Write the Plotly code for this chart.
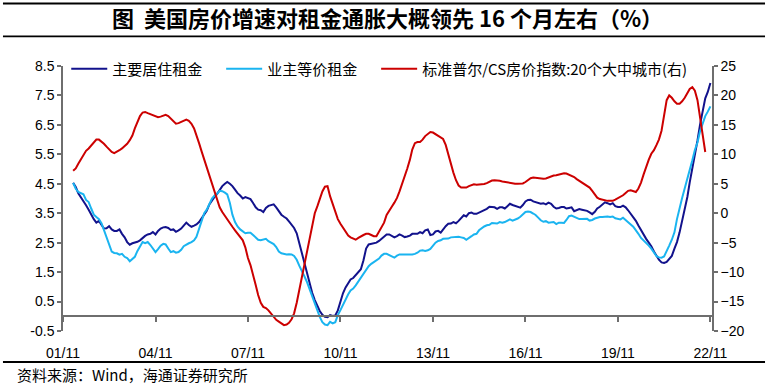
import pandas as pd
import plotly.graph_objects as go

START_MONTH = "2002-03-01"

# 主要居住租金 (YoY %, monthly from 2002-03 to 2022-11)
rent_primary = [
    4.53, 4.39, 4.18, 4.05, 3.93, 3.77, 3.62, 3.45, 3.30, 3.18,                # 2002 Mar-Dec
    3.24, 3.10, 2.98, 2.99, 3.06, 2.95, 2.90, 2.90, 2.95, 2.80, 2.68, 2.52,    # 2003
    2.43, 2.48, 2.50, 2.53, 2.58, 2.66, 2.73, 2.78, 2.80, 2.86, 2.78, 2.90,    # 2004
    2.98, 3.02, 3.03, 3.00, 2.93, 2.95, 2.87, 2.92, 2.98, 3.08, 3.18, 3.10,    # 2005
    3.04, 3.08, 3.12, 3.20, 3.33, 3.48, 3.58, 3.80, 3.95, 4.05, 4.16, 4.30,    # 2006
    4.42, 4.50, 4.56, 4.50, 4.42, 4.30, 4.18, 4.10, 4.00, 4.05, 4.02, 3.98,    # 2007
    3.85, 3.70, 3.62, 3.60, 3.54, 3.68, 3.75, 3.78, 3.80, 3.70, 3.55, 3.45,    # 2008
    3.38, 3.32, 3.22, 3.10, 3.00, 2.82, 2.50, 2.10, 1.80, 1.45, 1.10, 0.80,    # 2009
    0.55, 0.35, 0.18, 0.05, -0.02, -0.03, 0.04, 0.01, 0.03, 0.20, 0.50, 0.78,  # 2010
    0.98, 1.15, 1.25, 1.30, 1.40, 1.50, 1.60, 1.90, 2.30, 2.44, 2.46, 2.46,    # 2011
    2.50, 2.56, 2.64, 2.70, 2.78, 2.78, 2.72, 2.68, 2.72, 2.78, 2.74, 2.69,    # 2012
    2.71, 2.74, 2.80, 2.79, 2.80, 2.86, 2.82, 2.92, 2.95, 2.76, 2.78, 2.88,    # 2013
    2.90, 2.84, 2.96, 3.06, 3.14, 3.15, 3.20, 3.16, 3.24, 3.35, 3.43, 3.39,    # 2014
    3.50, 3.52, 3.48, 3.48, 3.52, 3.58, 3.62, 3.65, 3.72, 3.72, 3.70, 3.65,    # 2015
    3.70, 3.70, 3.66, 3.74, 3.82, 3.78, 3.75, 3.72, 3.69, 3.78, 3.90, 3.95,    # 2016
    3.96, 3.90, 3.88, 3.86, 3.82, 3.84, 3.80, 3.86, 3.82, 3.72, 3.66, 3.68,    # 2017
    3.71, 3.71, 3.66, 3.68, 3.70, 3.57, 3.60, 3.64, 3.62, 3.60, 3.58, 3.53,    # 2018
    3.47, 3.55, 3.66, 3.72, 3.80, 3.87, 3.84, 3.80, 3.84, 3.74, 3.71, 3.71,    # 2019
    3.76, 3.70, 3.60, 3.48, 3.40, 3.24, 3.08, 2.92, 2.78, 2.63, 2.50, 2.38,    # 2020
    2.20, 2.06, 1.92, 1.83, 1.81, 1.85, 1.94, 2.05, 2.30, 2.52, 2.85, 3.25,    # 2021
    3.62, 4.05, 4.55, 5.00, 5.45, 5.97, 6.50, 7.00, 7.40, 7.62, 7.92,          # 2022 Jan-Nov
]

# 业主等价租金 (YoY %, monthly from 2002-03 to 2022-11)
rent_oer = [
    4.53, 4.33, 4.22, 4.18, 4.14, 3.95, 3.88, 3.66, 3.45, 3.37,
    3.30, 3.15, 2.93, 2.63, 2.42, 2.20, 2.15, 2.14, 2.09, 2.12, 2.02, 1.98,
    1.87, 1.95, 2.02, 2.22, 2.36, 2.52, 2.48, 2.52, 2.42, 2.30, 2.18, 2.28,
    2.40, 2.46, 2.44, 2.30, 2.18, 2.21, 2.16, 2.18, 2.26, 2.38, 2.44, 2.48,
    2.52, 2.58, 2.70, 2.95, 3.25, 3.50, 3.62, 3.80, 4.00, 4.10, 4.16, 4.26,
    4.25, 4.20, 4.14, 3.85, 3.45, 3.20, 3.05, 2.95, 2.87, 2.82, 2.84, 2.84,
    2.76, 2.66, 2.60, 2.58, 2.61, 2.63, 2.55, 2.50, 2.45, 2.35, 2.20, 2.14,
    2.12, 2.10, 2.11, 2.10, 2.05, 1.92, 1.72, 1.55, 1.35, 1.16, 0.93, 0.72,
    0.45, 0.20, -0.02, -0.20, -0.28, -0.30, -0.19, -0.24, -0.20, 0.04, 0.21, 0.40,
    0.58, 0.75, 0.88, 0.94, 1.05, 1.18, 1.30, 1.45, 1.60, 1.70, 1.78, 1.84,
    1.90, 1.96, 2.06, 2.12, 2.12, 2.08, 2.02, 1.99, 2.06, 2.10, 2.10, 2.10,
    2.09, 2.11, 2.10, 2.12, 2.16, 2.23, 2.24, 2.22, 2.24, 2.29, 2.40, 2.50,
    2.56, 2.58, 2.63, 2.63, 2.64, 2.68, 2.69, 2.69, 2.70, 2.68, 2.66, 2.60,
    2.65, 2.72, 2.78, 2.80, 2.92, 3.00, 3.05, 3.09, 3.11, 3.17, 3.16, 3.15,
    3.20, 3.18, 3.20, 3.26, 3.29, 3.25, 3.28, 3.32, 3.38, 3.46, 3.54, 3.56,
    3.54, 3.49, 3.44, 3.35, 3.26, 3.21, 3.23, 3.18, 3.20, 3.20, 3.13, 3.18,
    3.18, 3.17, 3.27, 3.40, 3.42, 3.38, 3.36, 3.30, 3.30, 3.30, 3.31, 3.25,
    3.27, 3.32, 3.35, 3.37, 3.37, 3.38, 3.39, 3.37, 3.39, 3.33, 3.30, 3.29,
    3.35, 3.28, 3.20, 3.12, 3.04, 2.93, 2.80, 2.66, 2.58, 2.50, 2.40, 2.30,
    2.15, 2.04, 2.00, 1.99, 2.03, 2.25, 2.40, 2.60, 2.85, 3.30, 3.70, 4.02,
    4.35, 4.65, 4.95, 5.30, 5.65, 5.90, 6.28, 6.55, 6.80, 6.95, 7.13,
]

# 标准普尔/CS房价指数:20个大中城市 (YoY %, monthly from 2002-03 to 2022-09)
cs20 = [
    7.2, 7.6, 8.4, 9.2, 10.0, 10.6, 11.0, 11.5, 12.1, 12.5,
    12.5, 12.2, 11.8, 11.3, 10.8, 10.4, 10.2, 10.4, 10.7, 11.0, 11.4, 11.8,
    12.4, 13.2, 14.4, 15.5, 16.5, 17.1, 17.2, 17.0, 16.8, 16.6, 16.4, 16.3,
    16.4, 16.6, 16.7, 16.5, 16.1, 15.6, 15.2, 15.3, 15.5, 15.8, 15.9, 15.7,
    15.2, 14.4, 13.3, 11.9, 10.5, 9.1, 8.0, 6.7, 5.2, 3.6, 2.2, 1.0,
    0.2, -0.5, -1.0, -1.6, -2.3, -2.9, -3.5, -3.95, -4.6, -5.8, -7.6, -8.8,
    -10.3, -12.2, -13.9, -15.2, -15.9, -16.1, -16.5, -17.1, -17.6, -18.1, -18.4, -18.7,
    -19.0, -18.9, -18.6, -18.0, -17.0, -15.2, -13.1, -10.8, -8.6, -6.5, -4.3, -2.2,
    0.0, 1.2, 2.4, 3.7, 4.5, 4.6, 2.9, 1.6, 0.2, -1.0, -1.8, -2.5,
    -3.2, -3.8, -4.1, -4.3, -4.5, -4.2, -3.9, -3.7, -3.5, -3.5, -3.7, -3.9,
    -3.9, -3.1, -2.5, -1.6, -0.3, 0.5, 1.1, 1.8, 2.6, 3.7, 4.9, 6.3,
    7.6, 9.1, 10.8, 11.9, 12.1, 12.1, 12.5, 13.1, 13.5, 13.8, 13.7, 13.4,
    13.1, 12.9, 12.6, 11.6, 10.0, 8.6, 6.9, 5.6, 4.7, 4.35, 4.3, 4.35,
    4.6, 4.8, 4.9, 4.85, 4.85, 4.85, 4.95, 5.1, 5.35, 5.55, 5.6, 5.6,
    5.5, 5.4, 5.3, 5.2, 5.1, 5.0, 5.0, 5.0, 5.0, 5.05, 5.3, 5.7,
    5.95, 6.05, 6.0, 5.9, 5.9, 5.85, 5.9, 6.05, 6.3, 6.4, 6.45, 6.55,
    6.7, 6.8, 6.75, 6.55, 6.4, 6.15, 5.8, 5.5, 5.2, 4.95, 4.7, 4.35,
    3.8, 3.1, 2.65, 2.4, 2.3, 2.15, 2.1, 2.1, 2.1, 2.3, 2.55, 2.75,
    3.05, 3.45, 3.8, 3.9, 3.75, 3.6, 4.2, 5.2, 6.6, 8.0, 9.1, 10.1,
    10.7, 11.6, 12.5, 14.0, 16.3, 19.2, 20.0, 19.6, 19.0, 18.6, 18.6, 19.0,
    19.6, 20.3, 21.1, 21.4, 20.8, 19.2, 16.2, 13.0, 10.4,
]

tick_dates = ["2001-11-01", "2004-11-01", "2007-11-01", "2010-11-01",
              "2013-11-01", "2016-11-01", "2019-11-01", "2022-11-01"]
tick_labels = ["01/11", "04/11", "07/11", "10/11", "13/11", "16/11", "19/11", "22/11"]

names = ["主要居住租金", "业主等价租金", "标准普尔/CS房价指数:20个大中城市(右)"]
colors = ["#12128C", "#1AB4F0", "#CC0000"]

months_rent = pd.date_range(START_MONTH, periods=len(rent_primary), freq="MS")
months_cs = pd.date_range(START_MONTH, periods=len(cs20), freq="MS")

LAT = "Liberation Sans, Arial, sans-serif"
CJK = "Noto Sans CJK SC, sans-serif"
AX = "#6E6E6E"

fig = go.Figure()
fig.add_trace(go.Scatter(x=months_rent, y=rent_primary, name=names[0], mode="lines",
                         line=dict(color=colors[0], width=2), legend="legend"))
fig.add_trace(go.Scatter(x=months_rent, y=rent_oer, name=names[1], mode="lines",
                         line=dict(color=colors[1], width=2), legend="legend2"))
fig.add_trace(go.Scatter(x=months_cs, y=cs20, name=names[2], mode="lines",
                         line=dict(color=colors[2], width=2), yaxis="y2", legend="legend3"))
# helper invisible trace to carry the zero-line axis
fig.add_trace(go.Scatter(x=months_rent, y=rent_primary, mode="lines", xaxis="x2",
                         line=dict(width=0), opacity=0, showlegend=False, hoverinfo="skip"))

x_range = ["2001-11-01", "2022-11-20"]


def leg(xpos):
    return dict(orientation="h", x=xpos, y=0.989, xanchor="left", yanchor="middle",
                font=dict(family=CJK, size=15, color="#000"),
                bgcolor="rgba(0,0,0,0)", itemwidth=36)


# rules: above title, below title, above source note (paper coordinates), drawn as thin filled bars
rules_y = [1.236, 1.112, -0.117]
half = 0.0035
rule_shapes = [dict(type="rect", xref="paper", yref="paper", x0=-0.0925, x1=1.0817,
                    y0=yy - half, y1=yy + half, layer="above",
                    fillcolor="#000000", line=dict(width=0))
               for yy in rules_y]

fig.update_layout(
    width=772, height=385,
    margin=dict(l=63, r=60, t=66, b=54),
    paper_bgcolor="white", plot_bgcolor="white",
    showlegend=True,
    legend=leg(0.005), legend2=leg(0.2437), legend3=leg(0.4825),
    shapes=rule_shapes,
    xaxis=dict(type="date", range=x_range, tickvals=tick_dates, ticktext=tick_labels,
               showline=False, showgrid=False, zeroline=False,
               ticks="outside", ticklen=9, tickcolor="rgba(0,0,0,0)",
               tickfont=dict(family=LAT, size=14, color="#000")),
    xaxis2=dict(type="date", matches="x", overlaying="x", anchor="free", position=0.5 / 9,
                tickvals=tick_dates, showticklabels=False, showline=True, linecolor=AX,
                linewidth=1.5, ticks="outside", ticklen=5, tickcolor=AX, tickwidth=1.5,
                showgrid=False, zeroline=False),
    yaxis=dict(range=[-0.5, 8.5], tickvals=[-0.5, 0.5, 1.5, 2.5, 3.5, 4.5, 5.5, 6.5, 7.5, 8.5],
               ticktext=["-0.5", "0.5", "1.5", "2.5", "3.5", "4.5", "5.5", "6.5", "7.5", "8.5"],
               showline=True, linecolor=AX, linewidth=1.5, ticks="outside", ticklen=4,
               tickcolor=AX, tickwidth=1.5, showgrid=False, zeroline=False,
               tickfont=dict(family=LAT, size=14, color="#000")),
    yaxis2=dict(range=[-20, 25], dtick=5, tick0=-20, overlaying="y", side="right",
                showline=True, linecolor=AX, linewidth=1.5, ticks="outside", ticklen=4,
                tickcolor=AX, tickwidth=1.5, showgrid=False, zeroline=False,
                tickfont=dict(family=LAT, size=14, color="#000")),
)

# title and source note
fig.add_annotation(text="<b>图  美国房价增速对租金通胀大概领先 16 个月左右（%）</b>",
                   xref="paper", yref="paper", x=0.5, y=1.185, xanchor="center", yanchor="middle",
                   showarrow=False, font=dict(family=CJK, size=22, color="#000"))
fig.add_annotation(text="资料来源：Wind，海通证券研究所",
                   xref="paper", yref="paper", x=-0.074, y=-0.166, xanchor="left", yanchor="middle",
                   showarrow=False, font=dict(family=CJK, size=15, color="#000"))

fig.write_html("out.html", config={"displayModeBar": False},
               post_script="document.body.style.margin='0px';")
